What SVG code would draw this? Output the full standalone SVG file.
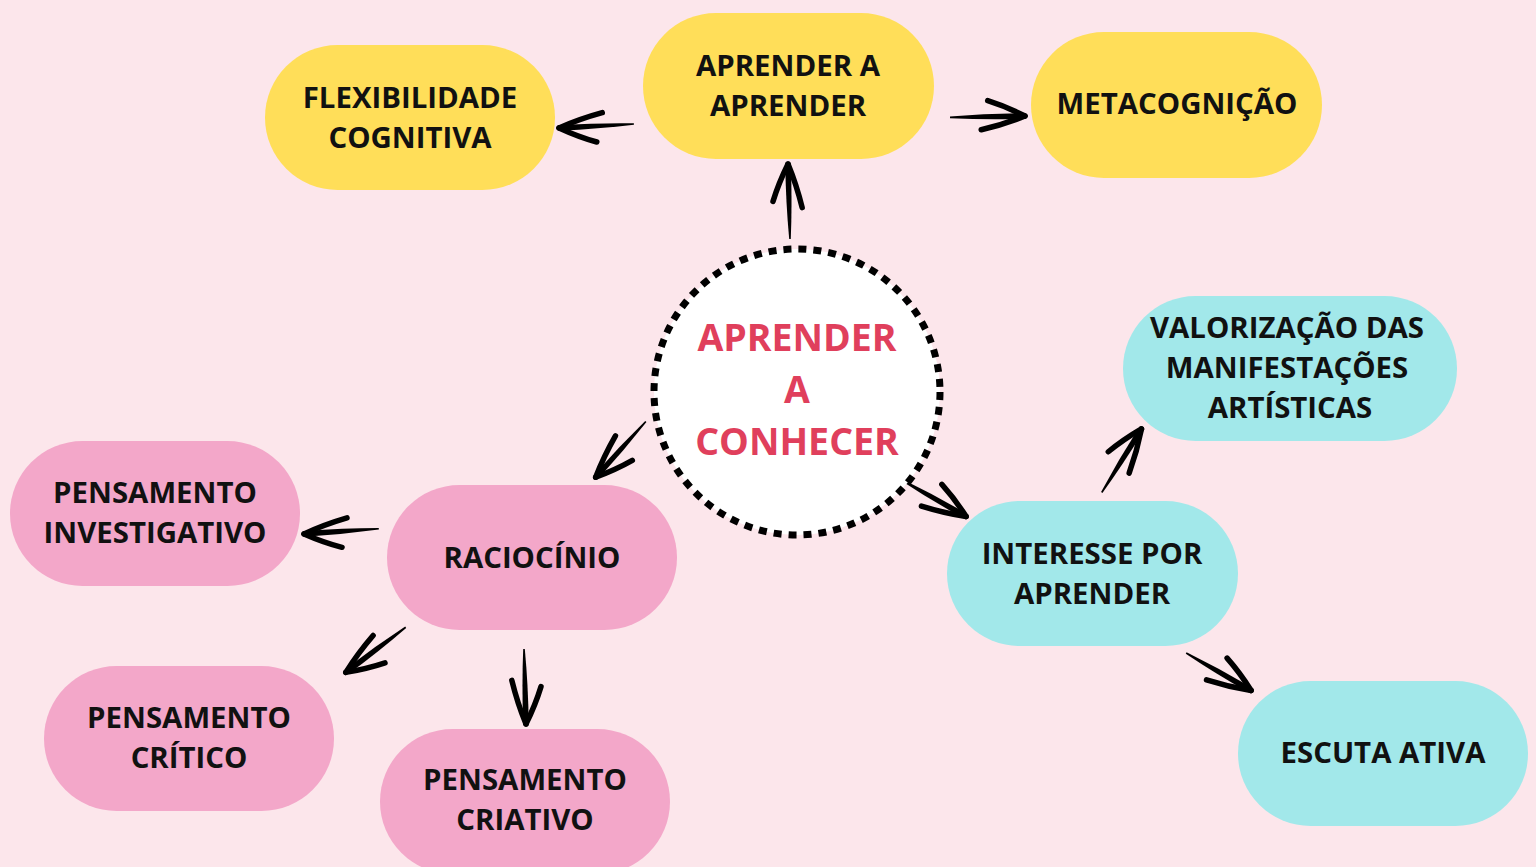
<svg xmlns="http://www.w3.org/2000/svg" width="1536" height="867" viewBox="0 0 1536 867">
<style>
.bg{fill:#fce6eb}
.y{fill:#ffde59}
.p{fill:#f3a7c9}
.c{fill:#a2e8ea}
.t{font-family:"Open Sans","Liberation Sans",sans-serif;font-weight:700;font-size:29.4px;fill:#111;text-anchor:middle}
.ct{font-family:"Open Sans","Liberation Sans",sans-serif;font-weight:700;font-size:37.5px;fill:#e03f5c;text-anchor:middle}
.barb{fill:none;stroke:#000;stroke-width:5.5;stroke-linecap:round}
</style>
<defs>
<g id="arr">
<path d="M-76,-0.8 Q-40,-3.2 -2,-2.8 L0,0 L-2,2.8 Q-40,3.2 -76,0.8 Z" fill="#000"/>
<path class="barb" d="M-1,0 Q-20,-10 -38,-16"/>
<path class="barb" d="M-1,0 Q-22,8 -45,13"/>
</g>
</defs>
<rect class="bg" x="0" y="0" width="1536" height="867"/>
<g id="connectors">
<use href="#arr" transform="translate(558,128) rotate(177)"/>
<use href="#arr" transform="translate(1026,116) rotate(-1)"/>
<use href="#arr" transform="translate(788,163) rotate(-91.5)"/>
<use href="#arr" transform="translate(595,478) rotate(132)"/>
<use href="#arr" transform="translate(303,534) rotate(176)"/>
<use href="#arr" transform="translate(345,673) rotate(143)"/>
<use href="#arr" transform="translate(526,725) rotate(88.5)"/>
<use href="#arr" transform="translate(1142,428) rotate(-58)"/>
<use href="#arr" transform="translate(967,517) rotate(29.6)"/>
<use href="#arr" transform="translate(1252,691) rotate(30)"/>
</g>
<g id="center">
<circle cx="797" cy="392" r="143" fill="#fff" stroke="#000" stroke-width="7" stroke-dasharray="8 7"/>
<text class="ct" x="797" y="351">APRENDER</text>
<text class="ct" x="797" y="403">A</text>
<text class="ct" x="797" y="455">CONHECER</text>
</g>
<g id="flexibilidade">
<rect class="y" x="265" y="45" width="290" height="145" rx="72.5"/>
<text class="t" x="410" y="107.5">FLEXIBILIDADE</text>
<text class="t" x="410" y="147.5">COGNITIVA</text>
</g>
<g id="aprender-a-aprender">
<rect class="y" x="643" y="13" width="291" height="146" rx="73"/>
<text class="t" x="788" y="75.5">APRENDER A</text>
<text class="t" x="788" y="115.5">APRENDER</text>
</g>
<g id="metacognicao">
<rect class="y" x="1031" y="32" width="291" height="146" rx="73"/>
<text class="t" x="1177" y="113.5">METACOGNIÇÃO</text>
</g>
<g id="valorizacao">
<rect class="c" x="1123" y="296" width="334" height="145" rx="72.5"/>
<text class="t" x="1287" y="337.5">VALORIZAÇÃO DAS</text>
<text class="t" x="1287" y="377.5">MANIFESTAÇÕES</text>
<text class="t" x="1290" y="417.5">ARTÍSTICAS</text>
</g>
<g id="interesse">
<rect class="c" x="947" y="501" width="291" height="145" rx="72.5"/>
<text class="t" x="1092" y="563.5">INTERESSE POR</text>
<text class="t" x="1092" y="603.5">APRENDER</text>
</g>
<g id="escuta">
<rect class="c" x="1238" y="681" width="290" height="145" rx="72.5"/>
<text class="t" x="1383" y="762.5">ESCUTA ATIVA</text>
</g>
<g id="raciocinio">
<rect class="p" x="387" y="485" width="290" height="145" rx="72.5"/>
<text class="t" x="532" y="567.5">RACIOCÍNIO</text>
</g>
<g id="investigativo">
<rect class="p" x="10" y="441" width="290" height="145" rx="72.5"/>
<text class="t" x="155" y="502.5">PENSAMENTO</text>
<text class="t" x="155" y="542.5">INVESTIGATIVO</text>
</g>
<g id="critico">
<rect class="p" x="44" y="666" width="290" height="145" rx="72.5"/>
<text class="t" x="189" y="727.5">PENSAMENTO</text>
<text class="t" x="189" y="767.5">CRÍTICO</text>
</g>
<g id="criativo">
<rect class="p" x="380" y="729" width="290" height="145" rx="72.5"/>
<text class="t" x="525" y="789.5">PENSAMENTO</text>
<text class="t" x="525" y="829.5">CRIATIVO</text>
</g>
</svg>
